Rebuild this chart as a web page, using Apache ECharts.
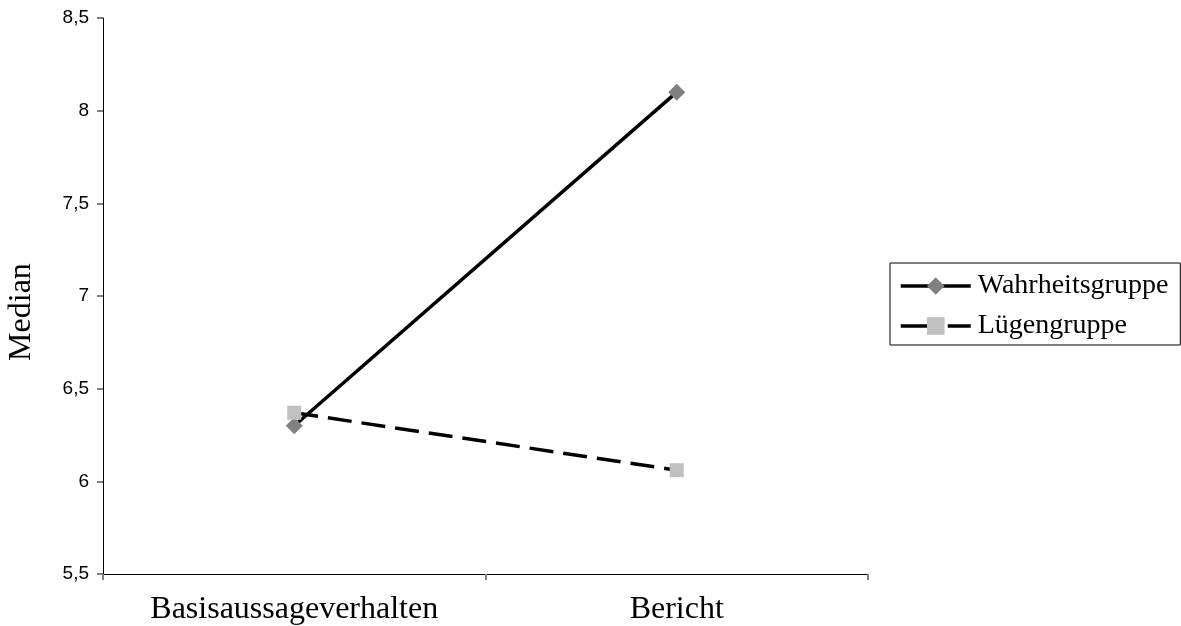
<!DOCTYPE html>
<html>
<head>
<meta charset="utf-8">
<script src="https://cdn.jsdelivr.net/npm/echarts@6/dist/echarts.min.js"></script>
<style>html,body{margin:0;padding:0;background:#fff}#c{width:1181px;height:626px}</style>
</head>
<body>
<div id="c"></div>
<script>
const categories = ['Basisaussageverhalten', 'Bericht'];
const wahrheit = [6.3, 8.1];
const luegen = [6.37, 6.06];
const yTicks = ['5,5', '6', '6,5', '7', '7,5', '8', '8,5'];

const chart = echarts.init(document.getElementById('c'), null, {renderer: 'canvas'});
chart.setOption({
  animation: false,
  backgroundColor: '#fff',
  grid: {left: 103, right: 313, top: 18, bottom: 52, containLabel: false, outerBoundsMode: 'none'},
  xAxis: {
    type: 'category',
    data: categories,
    boundaryGap: true,
    axisLine: {lineStyle: {color: '#000', width: 1}},
    axisTick: {show: true, length: 6, lineStyle: {color: '#808080', width: 2}, alignWithLabel: false},
    axisLabel: {fontFamily: 'Liberation Serif', fontSize: 32, color: '#000', margin: 20}
  },
  yAxis: {
    type: 'value',
    min: 5.5, max: 8.5, interval: 0.5,
    name: 'Median',
    nameLocation: 'middle',
    nameGap: 65,
    nameTextStyle: {fontFamily: 'Liberation Serif', fontSize: 32, color: '#000', padding: [0, 32, 0, 0]},
    splitLine: {show: false},
    axisLine: {show: true, onZero: false, lineStyle: {color: '#000', width: 1}},
    axisTick: {show: true, length: 6, lineStyle: {color: '#808080', width: 2}},
    axisLabel: {
      fontFamily: 'Liberation Sans', fontSize: 19, color: '#000', margin: 14,
      formatter: v => yTicks[Math.round((v - 5.5) / 0.5)]
    }
  },
  legend: {
    orient: 'vertical',
    left: 890, top: 263,
    itemWidth: 70, itemHeight: 22, itemGap: 12,
    padding: [9, 12, 5, 9],
    borderColor: '#000', borderWidth: 1,
    lineStyle: {width: 3.5, color: '#000'},
    textStyle: {fontFamily: 'Liberation Serif', fontSize: 28, color: '#000', padding: [0, 0, 0, 2]},
    data: [
      {name: 'Wahrheitsgruppe'},
      {name: 'Lügengruppe', lineStyle: {type: [30, 17], width: 3.5, color: '#000'}}
    ]
  },
  series: [
    {
      name: 'Wahrheitsgruppe', type: 'line', data: wahrheit,
      symbol: 'diamond', symbolSize: 17,
      itemStyle: {color: '#808080'},
      lineStyle: {color: '#000', width: 3.5}
    },
    {
      name: 'Lügengruppe', type: 'line', data: luegen,
      symbol: 'rect', symbolSize: 14,
      itemStyle: {color: '#c0c0c0'},
      lineStyle: {color: '#000', width: 3.5, type: [24, 10]}
    }
  ]
});
</script>
</body>
</html>
